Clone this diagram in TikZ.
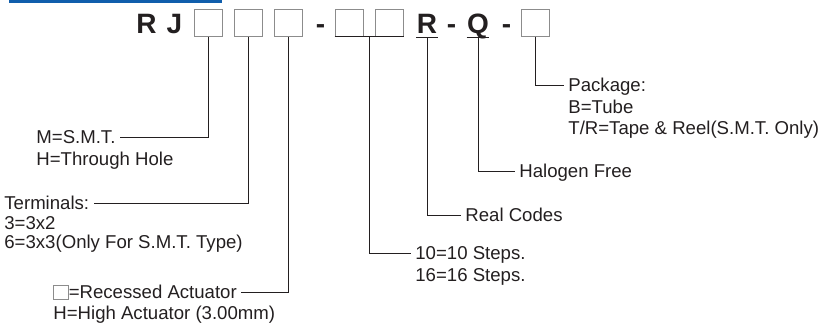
\documentclass[tikz,border=0pt]{standalone}
\usepackage{fontspec}
\setmainfont{Liberation Sans}
\usetikzlibrary{positioning,calc}

\definecolor{linebrown}{RGB}{35,31,32}
\definecolor{barblue}{RGB}{16,94,172}
\newcommand{\emptybox}{{\color{black!45}\setlength{\fboxsep}{0pt}\setlength{\fboxrule}{0.7pt}\fbox{\rule{0pt}{13pt}\hspace{14pt}}}}

\begin{document}
\begin{tikzpicture}[x=1pt,y=-1pt,line width=0.8pt]
	\tikzstyle{slot}=[draw=black!45,line width=1pt,minimum width=28pt,minimum height=27pt,inner sep=0pt]
	\tikzstyle{code}=[font=\fontsize{28}{28}\selectfont\bfseries,text=linebrown,text height=20pt,text depth=0pt,inner sep=0pt]
	\tikzstyle{note}=[font=\fontsize{18.6}{21}\selectfont,text=linebrown,text height=13pt,text depth=0pt,inner xsep=4pt,inner ysep=0pt,anchor=west]
	\tikzstyle{conn}=[draw=linebrown,line width=0.8pt]

	\useasboundingbox (0,0) rectangle (828,322);
	\fill[barblue] (9,0) rectangle (222,2.5);

	% part number
	\node[code]		(R1)	at (146.5,23)	{R};
	\node[code]		(J)	at (174.5,23)	{J};
	\node[slot]		(b1)	at (208,22.5)	{};
	\node[slot]		(b2)	at (248,22.5)	{};
	\node[slot]		(b3)	at (288,22.5)	{};
	\node[code]		(d1)	at (320.5,23)	{-};
	\node[slot]		(b4)	at (349,22.5)	{};
	\node[slot]		(b5)	at (389,22.5)	{};
	\node[code]		(R)	at (427,23)	{R};
	\node[code]		(d2)	at (451.5,23)	{-};
	\node[code]		(Q)	at (478,23)	{Q};
	\node[code]		(d3)	at (506.5,23)	{-};
	\node[slot]		(b6)	at (535,22.5)	{};

	% notes
	\node[note]	(smt)	at (32,137)	{M=S.M.T.};
	\node[note,below=22pt of smt.west,anchor=west]	(thole)	{H=Through Hole};
	\node[note]	(term)	at (0,203)	{Terminals:};
	\node[note,below=19.5pt of term.west,anchor=west]	(t32)	{3=3x2};
	\node[note,below=19.5pt of t32.west,anchor=west]	(t33)	{6=3x3(Only For S.M.T. Type)};
	\node[note]	(recess)	at (49,292)	{\emptybox=Recessed Actuator};
	\node[note,below=21pt of recess.west,anchor=west]	(high)	{H=High Actuator (3.00mm)};
	\node[note]	(steps)	at (411,253)	{10=10 Steps.};
	\node[note,below=22pt of steps.west,anchor=west]	(steps16)	{16=16 Steps.};
	\node[note]	(real)	at (461,215)	{Real Codes};
	\node[note]	(halogen)	at (515,171)	{Halogen Free};
	\node[note]	(pack)	at (564,85)	{Package:};
	\node[note,below=21.5pt of pack.west,anchor=west]	(tube)	{B=Tube};
	\node[note,below=21pt of tube.west,anchor=west]	(reel)	{T/R=Tape \& Reel(S.M.T. Only)};

	% leaders
	\draw[conn] (b1.south) |- (smt.east);
	\draw[conn] (b2.south) |- (term.east);
	\draw[conn] (b3.south) |- (recess.east);
	\draw[conn] (b4.south west) -- (b5.south east);
	\coordinate (join) at ($(b4.south)!.5!(b5.south)$);
	\draw[conn] (join) |- (steps.west);
	\draw[conn] ([yshift=-4pt]R.south west) -- ([yshift=-4pt]R.south east);
	\draw[conn] ([yshift=-4pt]R.south) |- (real.west);
	\draw[conn] ([yshift=-4pt]Q.south west) -- ([yshift=-4pt]Q.south east);
	\draw[conn] ([yshift=-4pt]Q.south) |- (halogen.west);
	\draw[conn] (b6.south) |- (pack.west);
\end{tikzpicture}
\end{document}
